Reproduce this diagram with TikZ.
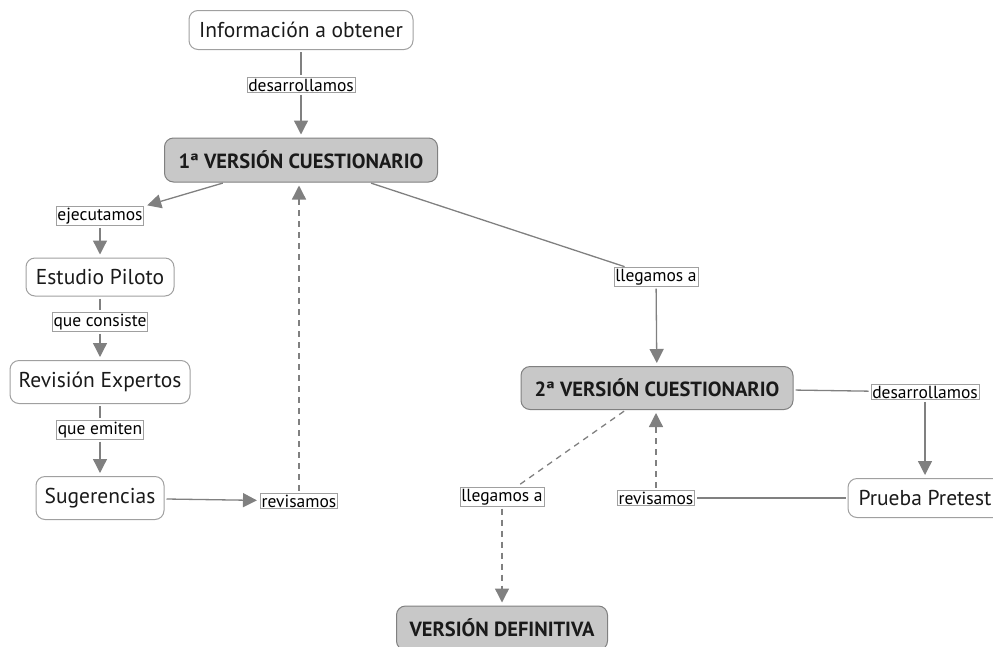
\documentclass[tikz,border=0pt]{standalone}
\usepackage{fontspec}
\setmainfont{PT Sans}
\usetikzlibrary{arrows.meta}
\definecolor{linegray}{HTML}{808080}
\definecolor{boxgray}{HTML}{A0A0A0}
\definecolor{fillgray}{HTML}{C8C8C8}
\definecolor{textdark}{HTML}{1A1A1A}

\begin{document}
\begin{tikzpicture}[x=1pt,y=-1pt,
  concept/.style={draw=boxgray, line width=1pt, rounded corners=9pt, fill=white,
    text=textdark, font=\fontsize{21.5}{25}\selectfont, minimum height=39pt, inner sep=0pt},
  keyconcept/.style={concept, fill=fillgray, draw=linegray,
    font=\bfseries\fontsize{20.5}{24}\selectfont, minimum height=44pt},
  linklabel/.style={draw=boxgray, line width=0.9pt, fill=white, text=black,
    font=\fontsize{17.5}{20}\selectfont, inner sep=1.3pt},
  link/.style={draw=linegray, line width=1.3pt, shorten <=2pt, shorten >=2pt},
  arrowlink/.style={link, -{Triangle[length=14pt,width=14pt]}, shorten >=3pt},
  dashlink/.style={link, dash pattern=on 6pt off 5pt},
]
\useasboundingbox (0,0) rectangle (993,646);

% concepts
\node[concept, minimum width=224pt] (info) at (301,30) {Información a obtener};
\node[keyconcept, minimum width=273pt] (v1) at (301,160) {1ª VERSIÓN CUESTIONARIO};
\node[concept, minimum width=148pt, minimum height=38pt] (ep) at (100,277) {Estudio Piloto};
\node[concept, minimum width=180pt, minimum height=43pt] (re) at (100,382) {Revisión Expertos};
\node[concept, minimum width=128pt, minimum height=43pt] (sug) at (100,498) {Sugerencias};
\node[keyconcept, minimum width=272pt, minimum height=43pt] (v2) at (657,388) {2ª VERSIÓN CUESTIONARIO};
\node[concept, minimum width=154pt] (pp) at (925,498) {Prueba Pretest};
\node[keyconcept, minimum width=211pt] (vd) at (502,628) {VERSIÓN DEFINITIVA};

% linking phrases
\node[linklabel] (des1) at (301,85) {desarrollamos};
\node[linklabel] (ejec) at (100,216) {ejecutamos};
\node[linklabel] (cons) at (100,322) {que consiste};
\node[linklabel] (emit) at (100,430) {que emiten};
\node[linklabel] (rev1) at (299,501) {revisamos};
\node[linklabel] (ll1) at (656,277) {llegamos a};
\node[linklabel] (des2) at (925,392) {desarrollamos};
\node[linklabel] (rev2) at (656,498) {revisamos};
\node[linklabel] (ll2) at (502,497) {llegamos a};

% connectors
\draw[link] (info) -- (des1);
\draw[arrowlink] (des1) -- (v1);
\draw[arrowlink] (v1) -- (ejec.north east);
\draw[arrowlink] (ejec) -- (ep);
\draw[link] (ep) -- (cons);
\draw[arrowlink] (cons) -- (re);
\draw[link] (re) -- (emit);
\draw[arrowlink] (emit) -- (sug);
\draw[arrowlink] (sug) -- (rev1);
\draw[dashlink, arrowlink] (rev1) -- (rev1 |- v1.south);
\draw[link] (v1) -- (ll1);
\draw[arrowlink] (ll1) -- (v2);
\draw[link] (v2) -- (des2);
\draw[arrowlink] (des2) -- (pp);
\draw[link] (pp) -- (rev2);
\draw[dashlink, arrowlink] (rev2) -- (rev2 |- v2.south);
\draw[dashlink] (v2) -- (ll2);
\draw[dashlink, arrowlink] (ll2) -- (vd);
\end{tikzpicture}
\end{document}
